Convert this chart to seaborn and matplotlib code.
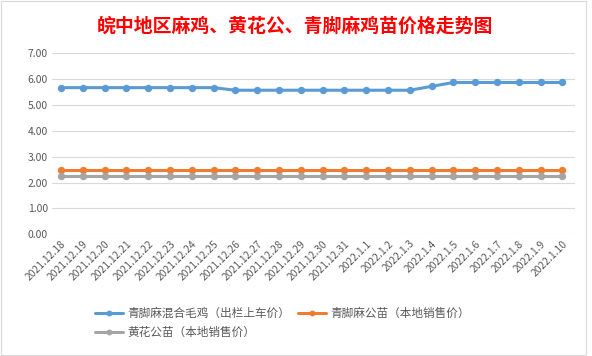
import matplotlib
matplotlib.use("Agg")
import matplotlib.pyplot as plt
import matplotlib.transforms as mtransforms
import seaborn as sns
import pandas as pd

dates = ["2021.12.18", "2021.12.19", "2021.12.20", "2021.12.21", "2021.12.22", "2021.12.23",
         "2021.12.24", "2021.12.25", "2021.12.26", "2021.12.27", "2021.12.28", "2021.12.29",
         "2021.12.30", "2021.12.31", "2022.1.1", "2022.1.2", "2022.1.3", "2022.1.4",
         "2022.1.5", "2022.1.6", "2022.1.7", "2022.1.8", "2022.1.9", "2022.1.10"]
mixed = [5.67, 5.67, 5.67, 5.67, 5.67, 5.67, 5.67, 5.67, 5.57, 5.57, 5.57, 5.57,
         5.57, 5.57, 5.57, 5.57, 5.57, 5.72, 5.87, 5.87, 5.87, 5.87, 5.87, 5.87]
qing_rooster = [2.5] * 24
huang_rooster = [2.25] * 24
series_names = ["青脚麻混合毛鸡（出栏上车价）", "青脚麻公苗（本地销售价）", "黄花公苗（本地销售价）"]
colors = ["#5B9BD5", "#ED7D31", "#A5A5A5"]

sns.set_theme(style="white")
plt.rcParams['font.family'] = ['Noto Sans CJK SC', 'DejaVu Sans']

rows = []
for name, vals in zip(series_names, [mixed, qing_rooster, huang_rooster]):
    for i, (d, v) in enumerate(zip(dates, vals)):
        rows.append({"idx": i, "date": d, "price": v, "series": name})
df = pd.DataFrame(rows)

fig = plt.figure(figsize=(5.92, 3.56), dpi=100)
ax = fig.add_axes([52 / 592, 0.342, 523 / 592, 0.5084])

sns.lineplot(data=df, x="idx", y="price", hue="series", palette=colors,
             hue_order=series_names, marker="o", markersize=5.3, markeredgewidth=0,
             linewidth=2.2, ax=ax, legend=True)

ax.set_xlim(-0.413, 23.58)
ax.set_ylim(0, 7)
ax.set_yticks(range(0, 8))
ax.set_yticklabels([f"{v:.2f}" for v in range(0, 8)], fontsize=7.5, color="#595959")
ax.set_xticks(range(len(dates)))
ax.set_xticklabels(dates, rotation=45, ha="right", rotation_mode="anchor",
                   fontsize=7.4, color="#595959")
offset = mtransforms.ScaledTranslation(5 / 100, -7 / 100, fig.dpi_scale_trans)
for lab in ax.get_xticklabels():
    lab.set_transform(lab.get_transform() + offset)
ax.tick_params(axis="both", length=0, pad=3)
ax.grid(axis="y", color="#D9D9D9", linewidth=0.8)
ax.set_axisbelow(True)
for s in ax.spines.values():
    s.set_visible(False)
ax.set_xlabel("")
ax.set_ylabel("")

handles, labels = ax.get_legend_handles_labels()
ax.get_legend().remove()
order = [0, 2, 1]
fig.legend([handles[i] for i in order], [labels[i] for i in order],
           loc="upper left", bbox_to_anchor=(95 / 592, 1 - 307 / 356),
           ncol=2, frameon=False, fontsize=8.4, handlelength=2.4, columnspacing=0.7,
           labelspacing=0.5, handletextpad=0.35, borderpad=0, borderaxespad=0,
           labelcolor="#595959", markerscale=0.8)

fig.text(295 / 592, 1 - 26 / 356, "皖中地区麻鸡、黄花公、青脚麻鸡苗价格走势图", ha="center", va="center",
         fontsize=13.6, color="#FF0000", fontweight="bold")

fig.patches.append(plt.Rectangle((0.002, 0.002), 0.988, 0.996, transform=fig.transFigure,
                                 fill=False, edgecolor="#D9D9D9", linewidth=0.8))

fig.savefig("out.png", dpi=100)
